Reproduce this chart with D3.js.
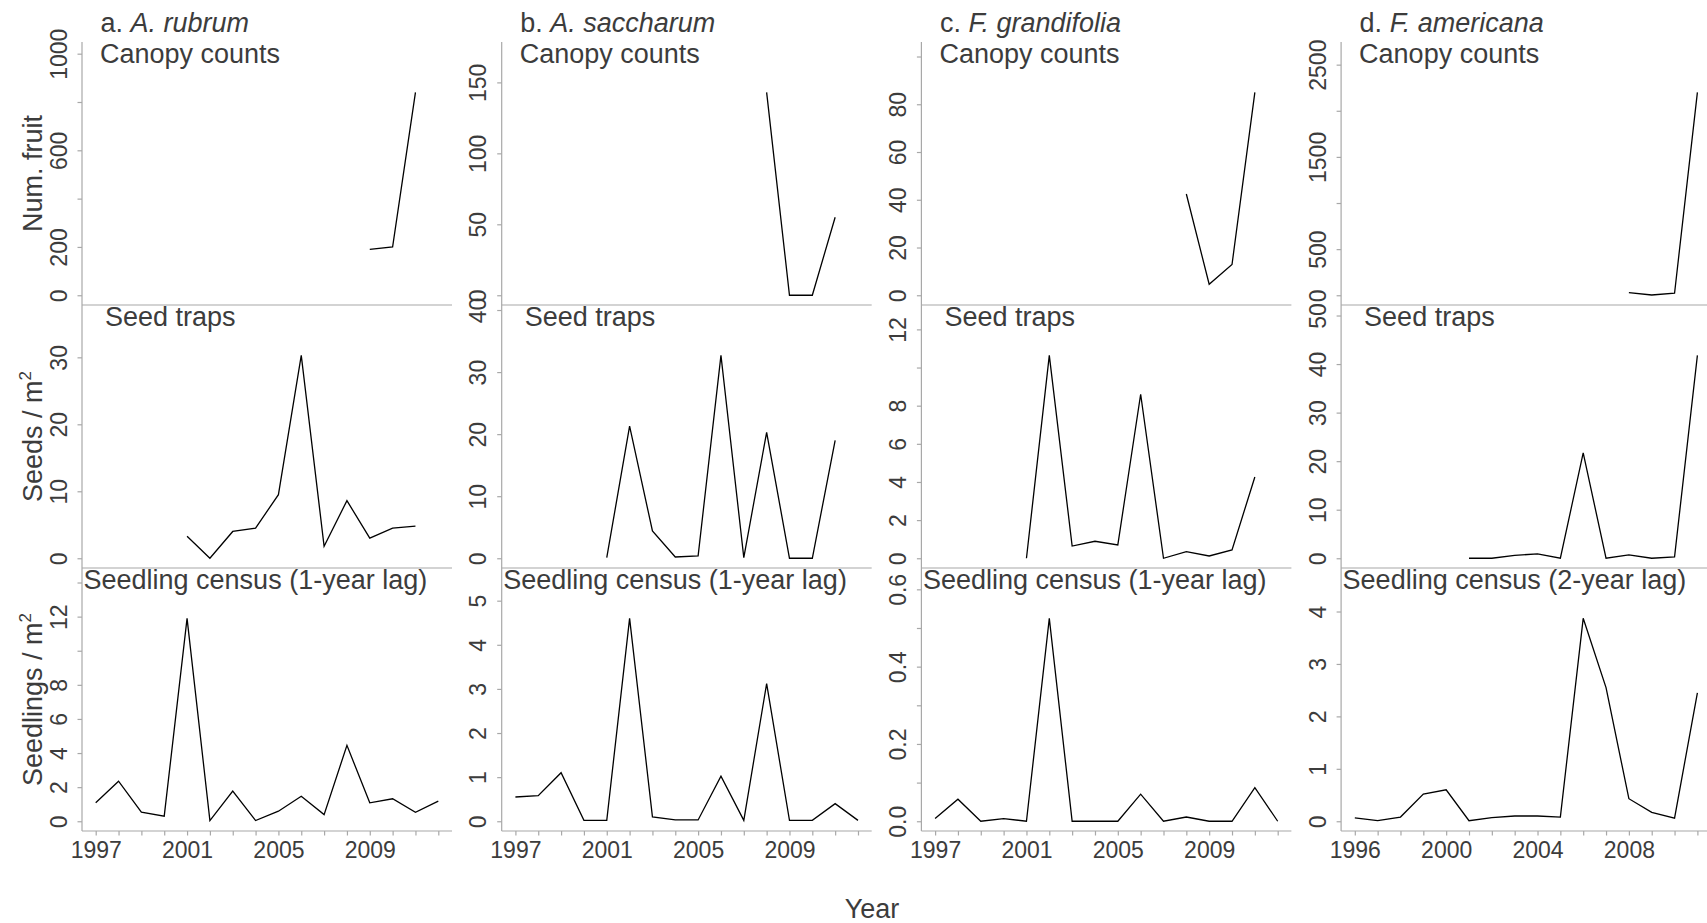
<!DOCTYPE html>
<html>
<head>
<meta charset="utf-8">
<script src="https://cdn.jsdelivr.net/npm/d3@7"></script>
<style>
  body { margin: 0; background: #fff; }
  svg { display: block; font-family: "Liberation Sans", Arial, sans-serif; }
</style>
</head>
<body>
<svg id="chart" width="1707" height="923"></svg>
<script>
// ---- Species and panel labels ----
const speciesLetters = ["a.", "b.", "c.", "d."];
const speciesNames = ["A. rubrum", "A. saccharum", "F. grandifolia", "F. americana"];
const canopyTitle = "Canopy counts";
const trapTitle = "Seed traps";
const censusTitles = [
  "Seedling census (1-year lag)",
  "Seedling census (1-year lag)",
  "Seedling census (1-year lag)",
  "Seedling census (2-year lag)"
];

// ---- Years ----
const censusYearsABC = [1997, 1998, 1999, 2000, 2001, 2002, 2003, 2004, 2005, 2006, 2007, 2008, 2009, 2010, 2011, 2012];
const censusYearsD   = [1996, 1997, 1998, 1999, 2000, 2001, 2002, 2003, 2004, 2005, 2006, 2007, 2008, 2009, 2010, 2011];
const trapYears      = [2001, 2002, 2003, 2004, 2005, 2006, 2007, 2008, 2009, 2010, 2011];
const canopyYearsA   = [2009, 2010, 2011];
const canopyYearsBCD = [2008, 2009, 2010, 2011];
const yearLabelsABC  = [1997, 2001, 2005, 2009];
const yearLabelsD    = [1996, 2000, 2004, 2008];

// ---- Canopy counts (number of fruit) ----
const canopyA = [190, 200, 840];
const canopyB = [143, 0, 0, 55];
const canopyC = [42.4, 4.6, 12.9, 85];
const canopyD = [29, 3, 22, 2200];

// ---- Seed traps (seeds / m2) ----
const trapA = [3.3, 0, 4.0, 4.5, 9.5, 30.3, 1.8, 8.6, 3.0, 4.5, 4.8];
const trapB = [0.1, 21.3, 4.4, 0.2, 0.4, 32.7, 0.1, 20.3, 0, 0, 19.0];
const trapC = [0, 10.64, 0.64, 0.89, 0.70, 8.6, 0.0, 0.35, 0.12, 0.44, 4.26];
const trapD = [0, 0, 0.6, 0.9, 0, 21.7, 0, 0.7, 0, 0.3, 41.8];

// ---- Seedling census (seedlings / m2) ----
const seedlingA = [1.08, 2.35, 0.53, 0.3, 11.9, 0.04, 1.77, 0.04, 0.59, 1.47, 0.39, 4.45, 1.08, 1.32, 0.53, 1.18];
const seedlingB = [0.55, 0.58, 1.1, 0.02, 0.02, 4.6, 0.1, 0.03, 0.03, 1.02, 0.02, 3.12, 0.02, 0.02, 0.4, 0.02];
const seedlingC = [0.007, 0.057, 0, 0.007, 0, 0.525, 0, 0, 0, 0.070, 0, 0.011, 0, 0, 0.087, 0];
const seedlingD = [0.065, 0.013, 0.08, 0.52, 0.6, 0.01, 0.07, 0.1, 0.1, 0.08, 3.87, 2.55, 0.43, 0.17, 0.06, 2.45];

// ---- Y tick values and which of them carry a label ----
const yTicks = [
  [[0, 200, 400, 600, 800, 1000], [0, 10, 20, 30, 40], [0, 2, 4, 6, 8, 10, 12, 14]],
  [[0, 50, 100, 150], [0, 10, 20, 30, 40], [0, 1, 2, 3, 4, 5]],
  [[0, 20, 40, 60, 80, 100], [0, 2, 4, 6, 8, 10, 12], [0, 0.1, 0.2, 0.3, 0.4, 0.5, 0.6]],
  [[0, 500, 1000, 1500, 2000, 2500], [0, 10, 20, 30, 40, 50], [0, 1, 2, 3, 4]]
];
const yTickLabels = [
  [[0, 200, 600, 1000], [0, 10, 20, 30, 40], [0, 2, 4, 6, 8, 12]],
  [[0, 50, 100, 150], [0, 10, 20, 30, 40], [0, 1, 2, 3, 4, 5]],
  [[0, 20, 40, 60, 80], [0, 2, 4, 6, 8, 12], [0, 0.2, 0.4, 0.6]],
  [[0, 500, 1500, 2500], [0, 10, 20, 30, 40, 50], [0, 1, 2, 3, 4]]
];
const yTitles = ["Num. fruit", "Seeds / m", "Seedlings / m"];

// ---- Assemble per-species series ----
const species = [
  { canopy: [canopyYearsA, canopyA], trap: [trapYears, trapA], census: [censusYearsABC, seedlingA], xLabels: yearLabelsABC },
  { canopy: [canopyYearsBCD, canopyB], trap: [trapYears, trapB], census: [censusYearsABC, seedlingB], xLabels: yearLabelsABC },
  { canopy: [canopyYearsBCD, canopyC], trap: [trapYears, trapC], census: [censusYearsABC, seedlingC], xLabels: yearLabelsABC },
  { canopy: [canopyYearsBCD, canopyD], trap: [trapYears, trapD], census: [censusYearsD, seedlingD], xLabels: yearLabelsD }
];

// ---- Layout ----
const panelLeft0 = 82, panelStep = 419.7, panelW = 370;
const rowTop = [42, 305, 568], rowH = 263;
const textColor = "#3c3c3c", axisColor = "#a8a8a8";
const tickFont = 23, labelFont = 27;

const svg = d3.select("#chart");

species.forEach((sp, i) => {
  const left = panelLeft0 + i * panelStep;
  const years = sp.census[0];
  const x = d3.scaleLinear()
    .domain([years[0] - 0.6, years[years.length - 1] + 0.6])
    .range([left, left + panelW]);

  const rows = [sp.canopy, sp.trap, sp.census];
  rows.forEach(([yrs, vals], r) => {
    const top = rowTop[r], bottom = top + rowH;
    const ymax = 1.2 * d3.max(vals);
    const y = d3.scaleLinear()
      .domain([-0.04 * ymax, 1.04 * ymax])
      .range([bottom, top]);

    const g = svg.append("g");

    // left and bottom frame lines
    g.append("line")
      .attr("x1", left).attr("x2", left).attr("y1", top).attr("y2", bottom)
      .attr("stroke", axisColor).attr("stroke-width", 1.2);
    g.append("line")
      .attr("x1", left).attr("x2", left + panelW).attr("y1", bottom).attr("y2", bottom)
      .attr("stroke", axisColor).attr("stroke-width", 1.2);

    // y axis
    const ticks = yTicks[i][r].filter(t => t >= y.domain()[0] && t <= y.domain()[1]);
    const labelled = yTickLabels[i][r];
    const fmt = (i === 2 && r === 2) ? d3.format(".1f") : d3.format("d");
    const yAxis = d3.axisLeft(y)
      .tickValues(ticks)
      .tickSize(4.5)
      .tickFormat(d => labelled.includes(d) ? fmt(d) : "");
    const ya = g.append("g").attr("transform", `translate(${left},0)`).call(yAxis);
    ya.select(".domain").remove();
    ya.selectAll(".tick line").attr("stroke", axisColor).attr("stroke-width", 1.2);
    ya.selectAll(".tick text")
      .attr("transform", "rotate(-90)")
      .attr("x", 0).attr("y", -15.3).attr("dy", 0)
      .attr("text-anchor", "middle")
      .attr("fill", textColor)
      .style("font-size", tickFont + "px")
      .style("font-family", "'Liberation Sans', Arial, sans-serif");

    // x axis on the census row only
    if (r === 2) {
      const xAxis = d3.axisBottom(x)
        .tickValues(years)
        .tickSize(4.5)
        .tickFormat(d => sp.xLabels.includes(d) ? String(d) : "");
      const xa = g.append("g").attr("transform", `translate(0,${bottom})`).call(xAxis);
      xa.select(".domain").remove();
      xa.selectAll(".tick line").attr("stroke", axisColor).attr("stroke-width", 1.2);
      xa.selectAll(".tick text")
        .attr("y", 26.7).attr("dy", 0)
        .attr("fill", textColor)
        .style("font-size", tickFont + "px")
        .style("font-family", "'Liberation Sans', Arial, sans-serif");
    }

    // data line
    const pts = yrs.map((yr, k) => ({ year: yr, value: vals[k] }));
    const line = d3.line().x(d => x(d.year)).y(d => y(d.value));
    g.append("path")
      .datum(pts)
      .attr("d", line)
      .attr("fill", "none")
      .attr("stroke", "#000")
      .attr("stroke-width", 1.3)
      .attr("stroke-linejoin", "miter");

    // row title inside the panel
    const title = r === 0 ? canopyTitle : r === 1 ? trapTitle : censusTitles[i];
    const tx = r === 0 ? left + 18 : r === 1 ? left + 23 : left + 1.5;
    const ty = r === 0 ? 63 : r === 1 ? 326 : 589.3;
    g.append("text")
      .attr("x", tx).attr("y", ty)
      .attr("fill", textColor)
      .style("font-size", labelFont + "px")
      .text(title);
  });

  // species heading
  const head = svg.append("text")
    .attr("x", left + 18.5).attr("y", 32.3)
    .attr("fill", textColor)
    .style("font-size", labelFont + "px");
  head.append("tspan").text(speciesLetters[i] + " ");
  head.append("tspan").style("font-style", "italic").text(speciesNames[i]);
});

// y axis titles on the first column
yTitles.forEach((t, r) => {
  const cy = rowTop[r] + rowH / 2;
  const txt = svg.append("text")
    .attr("transform", `translate(41.7,${cy}) rotate(-90)`)
    .attr("text-anchor", "middle")
    .attr("fill", textColor)
    .style("font-size", labelFont + "px");
  txt.append("tspan").text(t);
  if (r > 0) {
    txt.append("tspan")
      .attr("dy", -11)
      .style("font-size", "17px")
      .text("2");
  }
});

// shared x axis title
svg.append("text")
  .attr("x", 872).attr("y", 918)
  .attr("text-anchor", "middle")
  .attr("fill", textColor)
  .style("font-size", labelFont + "px")
  .text("Year");
</script>
</body>
</html>
